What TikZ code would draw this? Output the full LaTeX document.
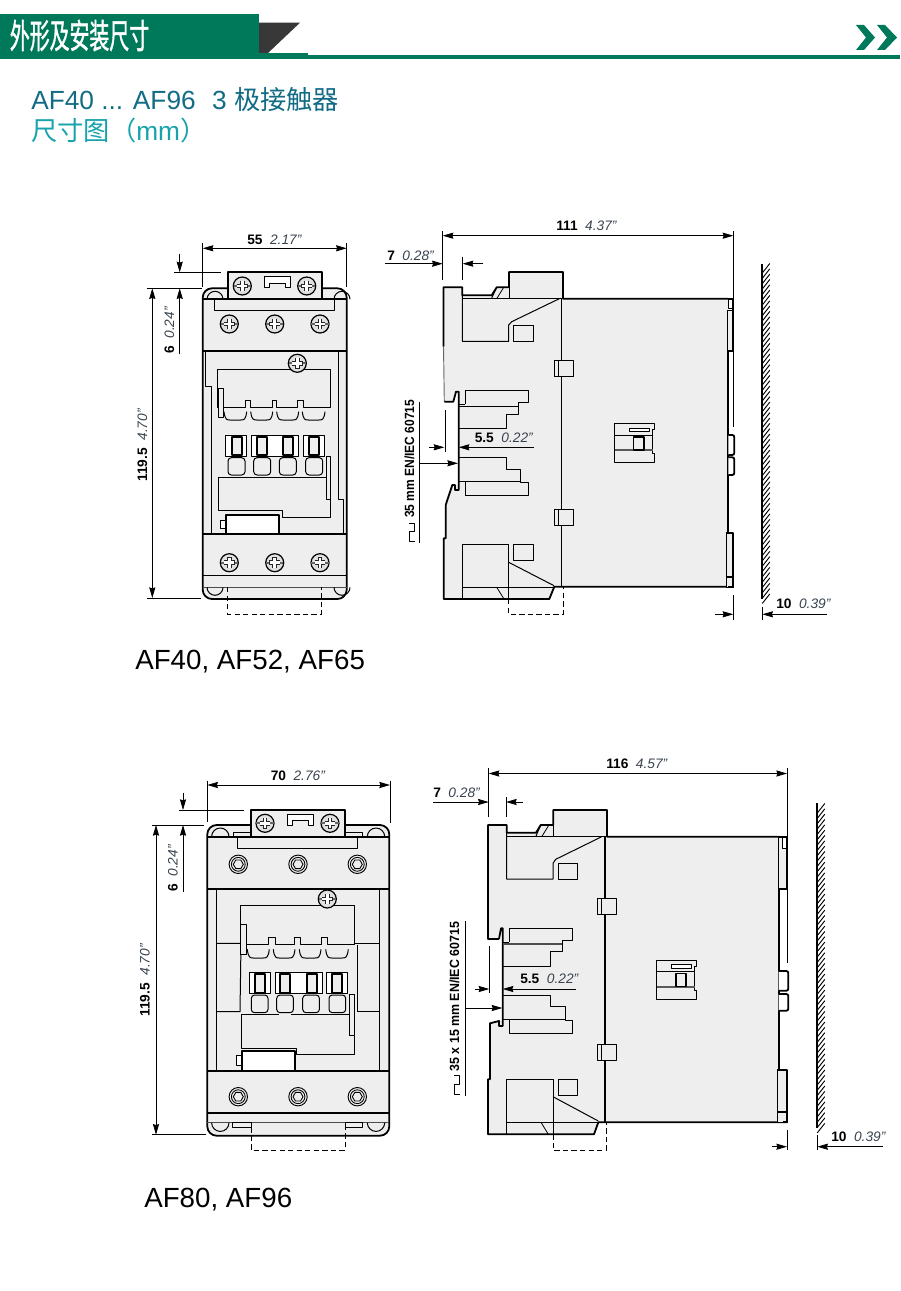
\documentclass[tikz,border=0pt]{standalone}
\usepackage{fontspec}
\setmainfont{Liberation Sans}
\newfontfamily\cjk{Noto Sans CJK SC}
\newfontfamily\cjkh[FakeBold=1.6]{Noto Sans CJK SC}
\usetikzlibrary{arrows.meta}
\definecolor{hgreen}{HTML}{00795A}
\definecolor{tblue}{HTML}{126C85}
\definecolor{tcyan}{HTML}{17A3AC}
\definecolor{bodyg}{HTML}{EEEEEE}
\definecolor{dimit}{HTML}{3A4450}
\newcommand{\dimt}[2]{{\bfseries #1}\hspace{.55em}{\itshape\color{dimit}#2}}
\newcommand{\hrnd}[4]{%
 \draw[thn] (#1,#3) .. controls ({#1+1},#4) and ({#1+3},#4) .. ({#1+6},#4) -- ({#2-6},#4) .. controls ({#2-3},#4) and ({#2-1},#4) .. (#2,#3);}
\newcommand{\switchbox}[2]{%
 \begin{scope}[shift={(#1,#2)}]
 \draw[thn,fill=bodyg] (0,0) -- (39.6,0) -- (39.6,6) -- (38,6) -- (38,30) -- (39.6,30) -- (39.6,39.3) -- (0,39.3) -- cycle;
 \draw[thn] (0,11.7) -- (38,11.7);
 \draw[thk,black!65] (0,26.7) -- (38,26.7);
 \draw[thk,fill=bodyg] (18.7,13.4) rectangle (29,26.4);
 \draw[thn,fill=white] (14.8,4.7) rectangle (34.8,8.3);
 \end{scope}}
\tikzset{
 thk/.style={line width=1.35pt,line join=round},
 thn/.style={line width=.75pt,line join=round},
 hair/.style={line width=.6pt},
 dashl/.style={line width=.75pt,dash pattern=on 4pt off 2.4pt},
 tipd/.tip={Stealth[length=8pt,width=4.6pt,inset=.8pt]},
 dimline/.style={line width=.6pt,-tipd},
 dimboth/.style={line width=.6pt,tipd-tipd},
 dimtext/.style={inset sep,font=\fontsize{10.3}{12}\selectfont,anchor=base west},
 inset sep/.style={inner sep=0pt},
 capt/.style={inner sep=0pt,anchor=base west,font=\fontsize{20.8}{24}\selectfont},
 hatchl/.style={line width=.7pt},
 screwh/.pic={
  \draw[line width=.9pt,fill=black!12] (0,0) circle (9);
  \fill[black!60] (-8.6,-1) rectangle (8.6,1);
  \draw[line width=3.6pt,black!85] (-5.4,0) -- (5.4,0) (0,-5.4) -- (0,5.4);
  \draw[line width=2pt,white] (-5,0) -- (5,0) (0,-5) -- (0,5);
 },
 hexh/.pic={
  \draw[line width=.7pt,fill=bodyg] (0,0) circle (9.2);
  \draw[line width=.65pt,fill=bodyg] (0,0) circle (6.9);
  \draw[line width=.65pt] (5,0) -- (2.5,4.3) -- (-2.5,4.3) -- (-5,0) -- (-2.5,-4.3) -- (2.5,-4.3) -- cycle;
 },
}
\begin{document}
\begin{tikzpicture}[x=.75pt,y=-.75pt]
\useasboundingbox (0,0) rectangle (900,1291);
% ---- header
\fill[hgreen] (0,14) rectangle (259,59);
\fill[black!78] (259,22.7) -- (300,22.7) -- (268,53) -- (259,53) -- cycle;
\fill[hgreen] (259,54.6) rectangle (900,59);
\fill[hgreen] (259,53.2) rectangle (308,55);
\fill[hgreen] (856,25) -- (864,25) -- (875,37.5) -- (864,50) -- (856,50) -- (866,37.5) -- cycle;
\fill[hgreen] (877,25) -- (885,25) -- (897,37.5) -- (885,50) -- (877,50) -- (887,37.5) -- cycle;
\node[white,inner sep=0pt,xscale=.585] (hd) at (79.5,35.5) {\fontsize{25.5}{28}\selectfont\cjkh 外形及安装尺寸};
\node[capt,tblue,font=\fontsize{19.7}{24}\selectfont] (t1) at (31,109.5) {AF40 ... AF96\hspace{.35em} 3 {\fontsize{19.7}{24}\selectfont\cjk 极接触器}};
\node[capt,tcyan,font=\fontsize{19.7}{24}\selectfont] (t2) at (31,141) {{\cjk 尺寸图（}mm{\cjk ）}};
\node[capt] (c1) at (135,669) {AF40, AF52, AF65};
\node[capt] (c2) at (144,1207) {AF80, AF96};

% ==== FRONT VIEW 1
\draw[thk,fill=bodyg,rounded corners=7pt] (202.7,288.3) rectangle (346.7,599);
\draw[thk,fill=bodyg] (227.7,299.5) -- (227.7,272.3) -- (321.7,272.3) -- (321.7,299.5);
\foreach \x in {242.3,306.7} \pic at (\x,286) {screwh};
\draw[thn,fill=white] (264.7,287.7) -- (264.7,276.7) -- (290,276.7) -- (290,287.7) -- (285.5,287.7) -- (285.5,283) -- (269.5,283) -- (269.5,287.7) -- cycle;
\draw[thn] (207,299.3) arc (180:360:8);
\draw[thn] (334,299.3) arc (180:360:8);
\draw[thk] (202.7,299.3) -- (346.7,299.3);
\draw[thn] (214.3,299.3) rectangle (334,310.7);
\foreach \x in {229.3,274.7,320} \pic at (\x,324) {screwh};
\draw[thk] (202.7,351) -- (346.7,351);
\draw[thn] (205.3,351) -- (205.3,386) -- (211,386) -- (211,534);
\draw[thn] (338.7,351) -- (338.7,499) -- (343.3,499) -- (343.3,534);
\draw[thn] (217.7,407.3) -- (217.7,369.3) -- (330.7,369.3) -- (330.7,407.3) -- (303.3,407.3) -- (303.3,400.7) -- (297.7,400.7) -- (297.7,407.3) -- (276.3,407.3) -- (276.3,400.7) -- (272.3,400.7) -- (272.3,407.3) -- (250.7,407.3) -- (250.7,400.7) -- (245,400.7) -- (245,407.3) -- cycle;
\pic at (297.3,363.3) {screwh};
\draw[thn,fill=bodyg] (218,388) rectangle (223,417.3);
\foreach \a/\b in {224/246.7,250.7/272.7,276.7/298.7,302.3/325} {\hrnd{\a}{\b}{411.7}{420}}
\foreach \a/\b in {225.7/246.7,251.7/298.3,303.7/324.3} \draw[thn,fill=white] (\a,435) rectangle (\b,456);
\foreach \a in {231.7,257.3,283.3,309.3} \draw[thk,fill=bodyg] (\a,437) rectangle ({\a+10},455);
\foreach \a in {228,253.7,279.3,305.7} \draw[thn,rounded corners=2.5pt] (\a,457.7) -- (\a,475) -- ({\a+17},475) -- ({\a+17},457.7) -- cycle;
\draw[thn] (218.3,477.7) -- (326,477.7);
\draw[thn,fill=bodyg] (326,456.7) rectangle (330.7,499);
\draw[thn] (330.7,499) -- (330.7,517) -- (282.3,517) -- (282.3,510) -- (218.3,510) -- (218.3,477.7);
\draw[thk,fill=white] (225.7,533.3) -- (225.7,515) -- (278.7,515) -- (278.7,533.3);
\draw[thn,fill=white] (220.3,520) rectangle (225.7,528);
\draw[thk] (202.7,534.3) -- (346.7,534.3);
\foreach \x in {229.3,274.7,320} \pic at (\x,562.7) {screwh};
\draw[thn] (202.7,575.3) -- (346.7,575.3);
\draw[line width=.6pt,black!70] (202.7,587.3) -- (346.7,587.3);
\draw[thn] (207,587.3) arc (180:0:8);
\draw[thn] (334,587.3) arc (180:0:8);
\draw[dashl] (227.7,587) -- (227.7,614.3) -- (321.3,614.3) -- (321.3,587);
% dims
\draw[hair] (202.7,243) -- (202.7,287);
\draw[hair] (346.7,243) -- (346.7,287);
\draw[dimboth] (202.7,248.3) -- (346.7,248.3);
\node[dimtext] (d55) at (247,244) {\dimt{55}{2.17"}};
\draw[hair] (174,272.3) -- (220.7,272.3);
\draw[hair] (147,288.3) -- (202,288.3);
\draw[dimline] (179.7,254) -- (179.7,272.3);
\draw[dimline] (179.7,354) -- (179.7,288.3);
\node[dimtext,rotate=90] (d6) at (174,354) {\dimt{6}{0.24"}};
\draw[dimboth] (152.3,288.3) -- (152.3,598);
\draw[hair] (147,598) -- (201,598);
\node[dimtext,rotate=90] (d119) at (147,482) {\dimt{119.5}{4.70"}};

% ==== SIDE VIEW 1
\draw[draw=none,fill=bodyg] (443.5,287.3) -- (462.3,287.3) -- (462.3,295.3) -- (491.7,295.3) -- (496.7,287.3) -- (509,287.3) -- (509,272) -- (563,272) -- (563,298.7) -- (728.3,298.7) -- (728.3,587.3) -- (554.3,586.7) -- (549.3,599) -- (443.7,599) -- (443.7,538.3) -- (445.7,538.3) -- (445.7,505) -- (452.3,485) -- (458.7,485) -- (458.7,391.7) -- (456,391.7) -- (453.3,401.7) -- (444.3,401.7) -- cycle;
\draw[thk] (443.5,346.7) -- (443.5,287.3) -- (462.3,287.3) -- (462.3,295.3) -- (491.7,295.3) -- (496.7,287.3) -- (509,287.3) -- (509,272) -- (563,272) -- (563,298.7) -- (728.3,298.7);
\draw[line width=.7pt,black!60] (443.5,346.7) -- (444.3,401.7);
\draw[thk] (444.3,401.7) -- (453.3,401.7) -- (456,391.7) -- (458.7,391.7) -- (458.7,481.7) -- (458.7,490) -- (455,490) -- (455,485) -- (452.3,485) -- (445.7,505) -- (445.7,538.3) -- (443.7,538.3) -- (443.7,599) -- (549.3,599) -- (554.3,586.7) -- (733,586.7);
\draw[hair] (445,410) -- (445,451.7);
\draw[thn] (462.3,298.7) -- (563,298.7);
\draw[thn] (561.7,298.7) -- (561.7,360.7) (561.7,376.7) -- (561.7,509.3) (561.7,525.3) -- (561.7,587);
\draw[thn] (559.3,298.7) -- (511.7,321.7) -- (508.7,325) -- (508.7,341.3) -- (462.3,341.3) -- (462.3,295.3);
\draw[hair] (503.3,288) -- (496.7,298.7);
\draw[thn] (491.7,298) -- (496.7,287.3);
\draw[thn] (509,287.3) -- (509,298.7);
\draw[thn] (513.7,325.7) rectangle (533.3,341.3);
\foreach \y in {360.7,509.3} {\draw[thn,fill=bodyg] (554,\y) rectangle (573.7,{\y+16}); \draw[thn] (558.7,\y) -- (558.7,{\y+16});}
\draw[thn] (465,404) -- (465,390.7) -- (528.3,390.7) -- (528.3,402) -- (518.3,402) -- (518.3,414) -- (506,414) -- (506,428.3) -- (458.7,428.3);
\draw[thn] (458.7,404) -- (465,404);
\draw[thn] (458.7,406) -- (518.3,406);
\draw[thn] (458.7,457.7) -- (506,457.7) -- (506,469.3) -- (520.7,469.3) -- (520.7,482.7) -- (528.3,482.7) -- (528.3,495.3) -- (465,495.3) -- (465,481.7);
\draw[thn] (458.7,481.7) -- (520.7,481.7);
\draw[thn] (462.3,599) -- (462.3,544.7) -- (508.7,544.7) -- (508.7,599);
\draw[thn] (462.3,587.3) -- (554,587.3);
\draw[thn] (508.7,562.3) -- (554,585.7);
\draw[hair] (496.7,587.3) -- (504,599);
\draw[thn] (513.7,544.7) rectangle (533.3,560.3);
\draw[dashl] (508.7,599) -- (508.7,614) -- (563,614) -- (563,587);
\switchbox{614.7}{423.3}
% right edge
\draw[thn,fill=white] (728.3,298.7) rectangle (733,308.3);
\draw[thk] (728.3,298.7) -- (733,298.7) -- (733,351);
\draw[thn,fill=bodyg] (727.7,310) rectangle (733,351);
\draw[thk] (733,310) -- (733,351) -- (727,351);
\draw[thk] (728.3,351) -- (728.3,533);
\draw[thk,fill=white,rounded corners=1.5pt] (728.3,435) -- (734.3,435) -- (734.3,455) -- (728.3,455);
\draw[thk,fill=white,rounded corners=1.5pt] (728.3,457.3) -- (734.3,457.3) -- (734.3,475) -- (728.3,475);
\draw[thn,fill=bodyg] (726.3,533.3) rectangle (733,587);
\draw[thk] (726.3,533.3) -- (733,533.3) -- (733,587) -- (728,587);
\draw[thk] (726.3,576.7) -- (733,576.7);
% wall
\draw[line width=1.5pt] (762.3,264.3) -- (762.3,599.3);
\foreach \i in {0,...,62} \draw[hatchl] (762.3,{273+\i*5.33}) -- ++(7.5,-9.5);
% dims
\draw[hair] (442.7,231) -- (442.7,280);
\draw[hair] (733.3,231) -- (733.3,426.7);
\draw[dimboth] (442.7,235.7) -- (733.3,235.7);
\node[dimtext] (d111) at (556,231) {\dimt{111}{4.37"}};
\draw[dimline] (384.7,263.7) -- (442.7,263.7);
\draw[dimline] (483.3,263.7) -- (462.7,263.7);
\draw[hair] (462.7,257) -- (462.7,280);
\node[dimtext] (d7) at (387,260) {\dimt{7}{0.28"}};
\draw[dimline] (429.3,447.3) -- (444.3,447.3);
\draw[dimline] (534,447.3) -- (458.7,447.3);
\node[dimtext] (d55a) at (474.5,442) {\dimt{5.5}{0.22"}};
\draw[hair] (419.3,401.7) -- (419.3,542.7);
\draw[dimline] (419.3,463.3) -- (458,463.3);
\node[inset sep,font=\fontsize{10}{12}\selectfont\bfseries,rotate=90,anchor=base west] (rail1) at (414,518) {\addfontfeatures{FakeStretch=.9}35 mm EN/IEC 60715};
\draw[thn] (409.3,523.3) -- (414.3,523.3) -- (414.3,531.7) -- (409.3,531.7) -- (409.3,541.7) -- (415,541.7);
\draw[hair] (733.3,595) -- (733.3,620);
\draw[hair] (762.3,606.7) -- (762.3,620);
\draw[dimline] (715,614.3) -- (733.3,614.3);
\draw[dimline] (826.7,614.3) -- (762.3,614.3);
\node[dimtext] (d10) at (776,608) {\dimt{10}{0.39"}};

% ==== FRONT VIEW 2
\draw[thk,fill=bodyg,rounded corners=7pt] (207.3,825) rectangle (389.3,1135.7);
\draw[thn,fill=bodyg] (233.3,832.3) rectangle (251.3,836.7);
\draw[thn,fill=bodyg] (345,832.3) rectangle (362.3,836.7);
\draw[thk,fill=bodyg] (251.3,836.7) -- (251.3,810) -- (345,810) -- (345,836.7);
\foreach \x in {265,330} \pic at (\x,823.3) {screwh};
\draw[thn,fill=white] (287.7,825) -- (287.7,814) -- (313.3,814) -- (313.3,825) -- (308.5,825) -- (308.5,820) -- (292.5,820) -- (292.5,825) -- cycle;
\draw[thn] (211.6,836.7) arc (180:360:8.7);
\draw[thn] (367.3,836.7) arc (180:360:8.7);
\draw[thk] (207.3,836.7) -- (389.3,836.7);
\draw[thn] (237.7,836.7) rectangle (357.7,848.3);
\foreach \x in {238.3,298,357.3} \pic at (\x,864.3) {hexh};
\draw[thk] (207.3,889.3) -- (389.3,889.3);
\draw[thn] (216.3,889.3) -- (216.3,1070) (379.7,889.3) -- (379.7,1070);
\draw[thn] (216.3,943.3) -- (241,943.3) -- (240,1011.7) -- (216.3,1011.7);
\draw[thn] (379.7,943.3) -- (354,943.3) (357,945) -- (357,1011.7) -- (379.7,1011.7);
\draw[thn] (240.7,944) -- (240.7,905.7) -- (354,905.7) -- (354,944) -- (327.3,944) -- (327.3,937.3) -- (321.3,937.3) -- (321.3,944) -- (300.7,944) -- (300.7,937.3) -- (294,937.3) -- (294,944) -- (275,944) -- (275,937.3) -- (268.3,937.3) -- (268.3,944) -- cycle;
\pic at (327.3,899) {screwh};
\draw[thn,fill=bodyg] (240.7,924.3) rectangle (246,954);
\foreach \a/\b in {247.3/269.3,273.3/295,299.3/321,325.7/348.3} {\hrnd{\a}{\b}{949.3}{958}}
\foreach \a/\b in {249/270,275/322.3,326.7/347.7} \draw[thn,fill=white] (\a,972.3) rectangle (\b,993.3);
\foreach \a in {254.7,280.3,306.7,332.3} \draw[thk,fill=bodyg] (\a,974) rectangle ({\a+10},992.7);
\foreach \a in {251.3,276.7,302.7,329} \draw[thn,rounded corners=2.5pt] (\a,995) -- (\a,1012.7) -- ({\a+16.7},1012.7) -- ({\a+16.7},995) -- cycle;
\draw[thn,fill=bodyg] (349.3,994.3) rectangle (354,1035.7);
\draw[thn] (354.7,1035.7) -- (354.7,1054) -- (296.7,1054) -- (296.7,1048.3) -- (241.7,1048.3) -- (241.7,1014.3) -- (279.3,1014.3) (290.7,1014.3) -- (349.3,1014.3);
\draw[thk,fill=white] (241.7,1070) -- (241.7,1051.3) -- (294.7,1051.3) -- (294.7,1070);
\draw[thn,fill=white] (236.7,1055.7) rectangle (241.7,1065.3);
\draw[thk] (207.3,1071) -- (389.3,1071);
\foreach \x in {238.3,298,357.3} \pic at (\x,1096.7) {hexh};
\draw[line width=1.6pt] (207.3,1112.7) -- (389.3,1112.7);
\draw[line width=.6pt,black!70] (207.3,1122.7) -- (389.3,1122.7);
\draw[thn] (211.6,1122.7) arc (180:0:8.7);
\draw[thn] (367.3,1122.7) arc (180:0:8.7);
\draw[thn,fill=bodyg] (232.3,1122.7) rectangle (251.3,1127.3);
\draw[thn,fill=bodyg] (345,1122.7) rectangle (362.3,1127.3);
\draw[dashl] (251,1127.3) -- (251,1150) -- (345,1150) -- (345,1127.3);
% dims
\draw[hair] (207.3,780.7) -- (207.3,821.7);
\draw[hair] (390,780.7) -- (390,823.3);
\draw[dimboth] (207.3,785) -- (390,785);
\node[dimtext] (d70) at (270.5,780) {\dimt{70}{2.76"}};
\draw[hair] (179.3,810) -- (244,810);
\draw[hair] (151.7,825) -- (204,825);
\draw[dimline] (183,793) -- (183,810);
\draw[dimline] (183,892.3) -- (183,825);
\node[dimtext,rotate=90] (d6b) at (177.5,892) {\dimt{6}{0.24"}};
\draw[dimboth] (156,825) -- (156,1134.7);
\draw[hair] (151.7,1134.7) -- (206,1134.7);
\node[dimtext,rotate=90] (d119b) at (149.5,1017) {\dimt{119.5}{4.70"}};

% ==== SIDE VIEW 2
\draw[draw=none,fill=bodyg] (488,825) -- (506.7,825) -- (506.7,832.7) -- (536,832.7) -- (540.7,825) -- (553.3,825) -- (553.3,810) -- (607,810) -- (607,836.7) -- (778.7,836.7) -- (778.7,1122.3) -- (598.3,1122.3) -- (594,1134.3) -- (488,1134.3) -- (488,1079.3) -- (490,1079.3) -- (490,1023.3) -- (499,1021) -- (502.7,1021) -- (502.7,928.3) -- (501,928.3) -- (499,939) -- (488,939) -- cycle;
\draw[thk] (499,939) -- (488,939) -- (488,825) -- (506.7,825) -- (506.7,832.7) -- (536,832.7) -- (540.7,825) -- (553.3,825) -- (553.3,810) -- (607,810) -- (607,836.7) -- (778.7,836.7);
\draw[thk] (499,939) -- (501,928.3) -- (502.7,928.3) -- (502.7,1020) -- (502.7,1026) -- (499,1026) -- (499,1021) -- (490,1023.3) -- (490,1079.3) -- (488,1079.3) -- (488,1134.3) -- (594,1134.3) -- (598.3,1122.3) -- (787,1122.3);
\draw[hair] (489.3,946) -- (489.3,993.3);
\draw[thn] (506.7,836.7) -- (607,836.7);
\draw[thk] (604.7,836.7) -- (604.7,898.3) (604.7,914.7) -- (604.7,1044.7) (604.7,1060.7) -- (604.7,1122);
\draw[thn] (601.7,836.7) -- (555.7,859.3) -- (553,863.3) -- (553,879) -- (506.7,879) -- (506.7,832.7);
\draw[hair] (548.3,826) -- (541.7,836.7);
\draw[thn] (536,836) -- (540.7,825);
\draw[thn] (553.3,825) -- (553.3,836.7);
\draw[thn] (558,863.7) rectangle (577.7,879.3);
\foreach \y in {898.3,1044.7} {\draw[thn,fill=bodyg] (597.3,\y) rectangle (616.7,{\y+16.2}); \draw[thn] (601.7,\y) -- (601.7,{\y+16.2});}
\draw[thn] (509.3,942) -- (509.3,928.3) -- (572.3,928.3) -- (572.3,940.3) -- (562,940.3) -- (562,951.7) -- (550.3,951.7) -- (550.3,966) -- (502.7,966);
\draw[thn] (502.7,942) -- (509.3,942);
\draw[thk,black!70] (502.7,944.3) -- (562,944.3);
\draw[thn] (502.7,995.7) -- (550,995.7) -- (550,1006.7) -- (565,1006.7) -- (565,1020.7) -- (572.3,1020.7) -- (572.3,1033.3) -- (509.3,1033.3) -- (509.3,1019.7);
\draw[thn] (502.7,1019.7) -- (565,1019.7);
\draw[thn] (506.7,1134) -- (506.7,1079.7) -- (553,1079.7) -- (553,1134);
\draw[thn] (506.7,1122.3) -- (598,1122.3);
\draw[thn] (553,1096.7) -- (598.3,1121);
\draw[hair] (541,1122.3) -- (548.3,1134.3);
\draw[thn] (558,1079.7) rectangle (577.7,1095.3);
\draw[dashl] (553,1134.3) -- (553,1150) -- (606.3,1150) -- (606.3,1122.3);
\switchbox{656.9}{960}
% right edge
\draw[thn,fill=bodyg] (778.7,836.7) rectangle (787,889);
\draw[thn,fill=white] (782.7,836.7) rectangle (787,848.3);
\draw[thk] (778.7,836.7) -- (787,836.7) -- (787,889) -- (777.7,889);
\draw[thk] (778.7,889) -- (778.7,1070);
\draw[thk,fill=white,rounded corners=1.5pt] (778.7,971) -- (788.3,971) -- (788.3,990.7) -- (778.7,990.7);
\draw[thk,fill=white,rounded corners=1.5pt] (778.7,994) -- (788.3,994) -- (788.3,1010.7) -- (778.7,1010.7);
\draw[thn,fill=bodyg] (777.3,1070) rectangle (787,1122);
\draw[thk] (777.3,1070) -- (787,1070) -- (787,1122) -- (783,1122);
\draw[thk] (777,1111.7) -- (787,1111.7);
% wall
\draw[line width=1.5pt] (817.3,803.3) -- (817.3,1128.3);
\foreach \i in {0,...,60} \draw[hatchl] (817.3,{813+\i*5.33}) -- ++(7.5,-9.5);
% dims
\draw[hair] (488.7,768.3) -- (488.7,817.3);
\draw[hair] (787,768.3) -- (787,963.3);
\draw[dimboth] (488.7,773.5) -- (787,773.5);
\node[dimtext] (d116) at (606,768) {\dimt{116}{4.57"}};
\draw[dimline] (433.3,802) -- (488.7,802);
\draw[dimline] (522.7,802) -- (506,802);
\draw[hair] (506,797.3) -- (506,817.3);
\node[dimtext] (d7b) at (433,797.5) {\dimt{7}{0.28"}};
\draw[dimline] (475,989) -- (489.3,989);
\draw[dimline] (575.7,989) -- (502.7,989);
\node[dimtext] (d55b) at (520,983) {\dimt{5.5}{0.22"}};
\draw[hair] (465.7,921) -- (465.7,1095.7);
\draw[dimline] (465.7,1008) -- (502.3,1008);
\node[inset sep,font=\fontsize{10}{12}\selectfont\bfseries,rotate=90,anchor=base west] (rail2) at (459,1071.7) {\addfontfeatures{FakeStretch=.93}35 x 15 mm EN/IEC 60715};
\draw[thn] (454.3,1075.5) -- (459.3,1075.5) -- (459.3,1084) -- (454.3,1084) -- (454.3,1094) -- (460,1094);
\draw[hair] (787,1130) -- (787,1150);
\draw[hair] (817.3,1135) -- (817.3,1150);
\draw[dimline] (771.7,1146.7) -- (787,1146.7);
\draw[dimline] (882.7,1146.7) -- (817.3,1146.7);
\node[dimtext] (d10b) at (831,1141) {\dimt{10}{0.39"}};
\end{tikzpicture}
\end{document}
